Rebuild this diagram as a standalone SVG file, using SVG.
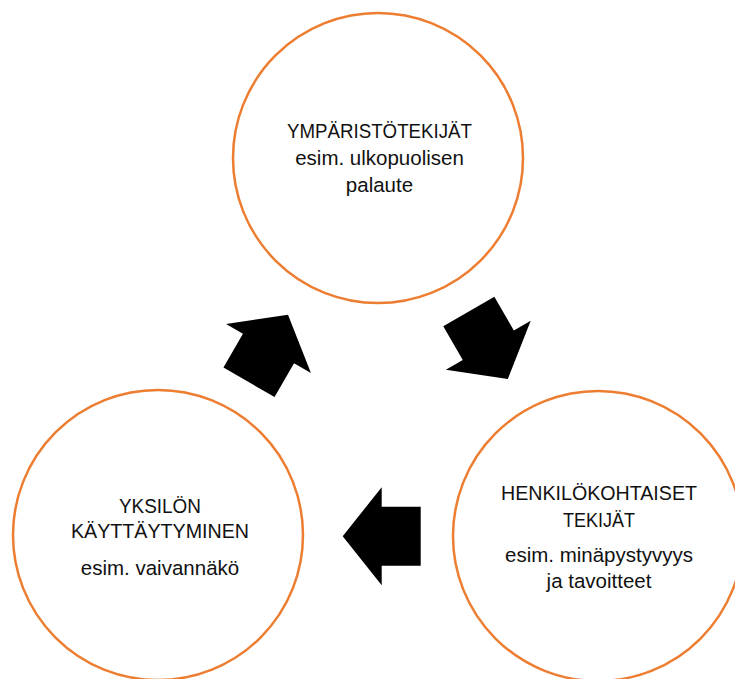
<svg xmlns="http://www.w3.org/2000/svg" xmlns:xlink="http://www.w3.org/1999/xlink" width="735" height="679" viewBox="0 0 735 679">
  <defs>
    <style>
      .node circle { fill: #ffffff; stroke: #ED7D31; stroke-width: 2.5; }
      .node text { font-family: "Liberation Sans", Arial, sans-serif; font-size: 20.5px; fill: #111111; text-anchor: middle; }
      .arrow { fill: #000000; }
    </style>
    <path id="blockArrow" d="M 0,-39 L 49,0 L 29.5,0 L 29.5,39 L -29.5,39 L -29.5,0 L -49,0 Z"/>
  </defs>
  <rect x="0" y="0" width="735" height="679" fill="#ffffff"/>

  <g id="node-ymparistotekijat" class="node">
    <circle cx="378" cy="158" r="145"/>
    <text x="379.5" y="138" textLength="185" lengthAdjust="spacingAndGlyphs">YMPÄRISTÖTEKIJÄT</text>
    <text x="379.5" y="165">esim. ulkopuolisen</text>
    <text x="379.5" y="192">palaute</text>
  </g>

  <g id="node-henkilokohtaiset" class="node">
    <circle cx="598" cy="536" r="145"/>
    <text x="599" y="500" textLength="196" lengthAdjust="spacingAndGlyphs">HENKILÖKOHTAISET</text>
    <text x="599" y="527" textLength="72" lengthAdjust="spacingAndGlyphs">TEKIJÄT</text>
    <text x="599" y="562">esim. minäpystyvyys</text>
    <text x="599" y="588">ja tavoitteet</text>
  </g>

  <g id="node-kayttaytyminen" class="node">
    <circle cx="158" cy="535" r="145"/>
    <text x="160" y="513" textLength="82" lengthAdjust="spacingAndGlyphs">YKSILÖN</text>
    <text x="160" y="538" textLength="178" lengthAdjust="spacingAndGlyphs">KÄYTTÄYTYMINEN</text>
    <text x="160" y="575">esim. vaivannäkö</text>
  </g>

  <g id="connectors">
    <use class="arrow" xlink:href="#blockArrow" href="#blockArrow" transform="translate(268.5,348.5) rotate(30)"/>
    <use class="arrow" xlink:href="#blockArrow" href="#blockArrow" transform="translate(488.3,345.2) rotate(150)"/>
    <use class="arrow" xlink:href="#blockArrow" href="#blockArrow" transform="translate(381.7,536.2) rotate(-90)"/>
  </g>
</svg>
